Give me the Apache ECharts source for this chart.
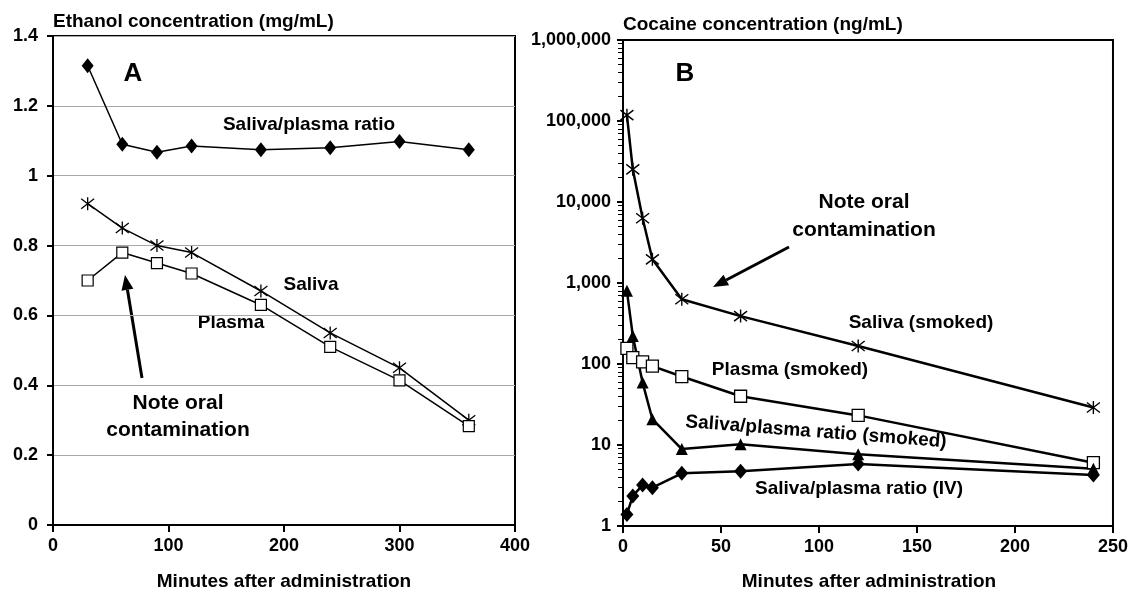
<!DOCTYPE html>
<html>
<head>
<meta charset="utf-8">
<script src="https://cdn.jsdelivr.net/npm/echarts@6/dist/echarts.min.js"></script>
<style>
  html, body { margin: 0; padding: 0; background: #fff; }
  #chart { width: 1131px; height: 592px; }
</style>
</head>
<body>
<div id="chart"></div>
<script>
// panel A - ethanol
var timeA = [30, 60, 90, 120, 180, 240, 300, 360];
var ratioA = [1.315, 1.09, 1.067, 1.085, 1.074, 1.08, 1.098, 1.074];
var salivaA = [0.92, 0.85, 0.80, 0.78, 0.67, 0.55, 0.45, 0.30];
var plasmaA = [0.70, 0.78, 0.75, 0.72, 0.63, 0.51, 0.414, 0.283];

// panel B - cocaine
var timeB = [2, 5, 10, 15, 30, 60, 120, 240];
var salivaSmoked = [118000, 25300, 6300, 1960, 630, 390, 167, 29];
var plasmaSmoked = [156, 120, 106, 94, 70, 40, 23.2, 6.05];
var ratioSmoked = [800, 222, 59, 20.8, 8.9, 10.2, 7.7, 5.1];
var ratioIV = [1.39, 2.35, 3.2, 2.97, 4.47, 4.75, 5.83, 4.26];

var minorTicksB = [];
[1, 10, 100, 1000, 10000, 100000].forEach(function (d) {
  for (var k = 2; k <= 9; k++) minorTicksB.push(d * k);
});

function pairs(xs, ys) {
  return xs.map(function (x, i) { return [x, ys[i]]; });
}

var FONT = '"Liberation Sans", Arial, sans-serif';
var STAR = 'path://M0,0L10,10M10,0L0,10M5,-1.5L5,11.5';

var labelStyle = { color: '#000', fontSize: 18, fontWeight: 'bold', fontFamily: FONT };

function txt(s, x, y, size, rot) {
  return {
    type: 'text', x: x, y: y, rotation: rot || 0, silent: true,
    style: {
      text: s, fill: '#000', align: 'center', verticalAlign: 'middle',
      font: 'bold ' + size + 'px ' + FONT
    }
  };
}

function arrow(x1, y1, x2, y2) {
  var dx = x2 - x1, dy = y2 - y1, len = Math.sqrt(dx * dx + dy * dy);
  var ux = dx / len, uy = dy / len;
  var bx = x2 - 15 * ux, by = y2 - 15 * uy;
  var px = -uy * 6, py = ux * 6;
  return [
    { type: 'line', silent: true, shape: { x1: x1, y1: y1, x2: bx, y2: by },
      style: { stroke: '#000', lineWidth: 3 } },
    { type: 'polygon', silent: true,
      shape: { points: [[x2, y2], [bx + px, by + py], [bx - px, by - py]] },
      style: { fill: '#000' } }
  ];
}

var chart = echarts.init(document.getElementById('chart'));

chart.setOption({
  animation: false,
  backgroundColor: '#fff',
  grid: [
    { left: 53, top: 36, width: 462, height: 489, show: true, borderColor: '#000', borderWidth: 2 },
    { left: 623, top: 40, width: 492, height: 486, show: true, borderColor: '#000', borderWidth: 2 }
  ],
  xAxis: [
    {
      gridIndex: 0, type: 'value', min: 0, max: 400, interval: 100,
      axisLine: { lineStyle: { color: '#000', width: 2 } },
      axisTick: { length: 7, lineStyle: { color: '#000', width: 2 } },
      axisLabel: Object.assign({ margin: 12 }, labelStyle),
      splitLine: { show: false }
    },
    {
      gridIndex: 1, type: 'value', min: 0, max: 250, interval: 50,
      axisLine: { lineStyle: { color: '#000', width: 2 } },
      axisTick: { length: 7, lineStyle: { color: '#000', width: 2 } },
      axisLabel: Object.assign({ margin: 12 }, labelStyle),
      splitLine: { show: false }
    }
  ],
  yAxis: [
    {
      gridIndex: 0, type: 'value', min: 0, max: 1.4, interval: 0.2,
      axisLine: { show: true, lineStyle: { color: '#000', width: 2 } },
      axisTick: { show: true, length: 6, lineStyle: { color: '#000', width: 2 } },
      axisLabel: Object.assign({ margin: 15 }, labelStyle),
      splitLine: { show: true, lineStyle: { color: '#a8a8a8', width: 1 } }
    },
    {
      gridIndex: 1, type: 'log', logBase: 10, min: 1, max: 1000000, position: 'left',
      axisLine: { show: true, lineStyle: { color: '#000', width: 2 } },
      axisTick: { show: true, length: 6, lineStyle: { color: '#000', width: 2 } },
      axisLabel: Object.assign({
        margin: 12,
        formatter: function (v) { return Math.round(v).toLocaleString('en-US'); }
      }, labelStyle),
      splitLine: { show: false }
    },
    {
      gridIndex: 1, type: 'log', logBase: 10, min: 1, max: 1000000, position: 'left',
      axisLine: { show: false },
      axisTick: { show: true, length: 5, customValues: minorTicksB, lineStyle: { color: '#000', width: 1 } },
      axisLabel: { show: false },
      splitLine: { show: false }
    }
  ],
  series: [
    {
      type: 'line', xAxisIndex: 0, yAxisIndex: 0, data: pairs(timeA, ratioA),
      symbol: 'diamond', symbolSize: [12, 15],
      itemStyle: { color: '#000' }, lineStyle: { color: '#000', width: 1.5 }
    },
    {
      type: 'line', xAxisIndex: 0, yAxisIndex: 0, data: pairs(timeA, salivaA),
      symbol: STAR, symbolSize: 13,
      itemStyle: { color: 'transparent', borderColor: '#000', borderWidth: 1.3 },
      lineStyle: { color: '#000', width: 1.5 }
    },
    {
      type: 'line', xAxisIndex: 0, yAxisIndex: 0, data: pairs(timeA, plasmaA),
      symbol: 'rect', symbolSize: 11,
      itemStyle: { color: '#fff', borderColor: '#000', borderWidth: 1.2 },
      lineStyle: { color: '#000', width: 1.5 }
    },
    {
      type: 'line', xAxisIndex: 1, yAxisIndex: 1, data: pairs(timeB, salivaSmoked),
      symbol: STAR, symbolSize: 13,
      itemStyle: { color: 'transparent', borderColor: '#000', borderWidth: 1.4 },
      lineStyle: { color: '#000', width: 2.5 }
    },
    {
      type: 'line', xAxisIndex: 1, yAxisIndex: 1, data: pairs(timeB, plasmaSmoked),
      symbol: 'rect', symbolSize: 12,
      itemStyle: { color: '#fff', borderColor: '#000', borderWidth: 1.3 },
      lineStyle: { color: '#000', width: 2.5 }
    },
    {
      type: 'line', xAxisIndex: 1, yAxisIndex: 1, data: pairs(timeB, ratioSmoked),
      symbol: 'triangle', symbolSize: [12, 12],
      itemStyle: { color: '#000' }, lineStyle: { color: '#000', width: 2.5 }
    },
    {
      type: 'line', xAxisIndex: 1, yAxisIndex: 1, data: pairs(timeB, ratioIV),
      symbol: 'diamond', symbolSize: [13, 15],
      itemStyle: { color: '#000' }, lineStyle: { color: '#000', width: 2.5 }
    }
  ],
  graphic: [
    {
      type: 'text', x: 53, y: 22, silent: true,
      style: { text: 'Ethanol concentration (mg/mL)', fill: '#000', align: 'left', verticalAlign: 'middle',
        font: 'bold 19px ' + FONT }
    },
    {
      type: 'text', x: 623, y: 25, silent: true,
      style: { text: 'Cocaine concentration (ng/mL)', fill: '#000', align: 'left', verticalAlign: 'middle',
        font: 'bold 19px ' + FONT }
    },
    txt('Minutes after administration', 284, 582, 19),
    txt('Minutes after administration', 869, 582, 19),
    txt('A', 133, 74, 26),
    txt('B', 685, 74, 26),
    txt('Saliva/plasma ratio', 309, 125, 19),
    txt('Saliva', 311, 285, 19),
    txt('Plasma', 231, 323, 19),
    txt('Note oral', 178, 403, 21),
    txt('contamination', 178, 430, 21),
    txt('Note oral', 864, 202, 21),
    txt('contamination', 864, 230, 21),
    txt('Saliva (smoked)', 921, 323, 19),
    txt('Plasma (smoked)', 790, 370, 19),
    txt('Saliva/plasma ratio (smoked)', 816, 432, 19, -0.077),
    txt('Saliva/plasma ratio (IV)', 859, 489, 19)
  ].concat(arrow(142, 378, 125, 275), arrow(789, 247, 713, 287))
});
</script>
</body>
</html>
